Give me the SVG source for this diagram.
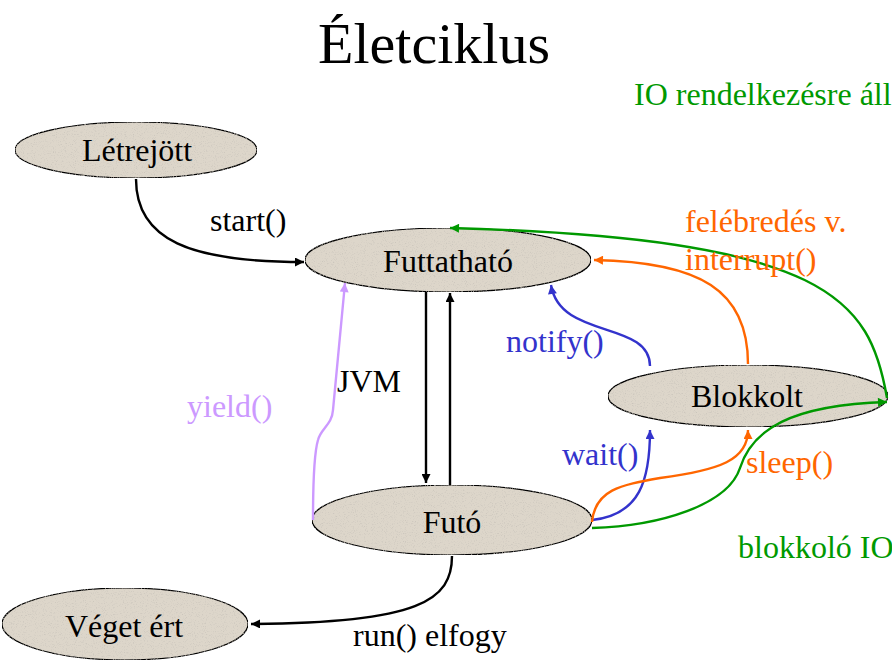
<svg xmlns="http://www.w3.org/2000/svg" width="892" height="661" viewBox="0 0 892 661" font-family="'Liberation Serif', serif">
<style>
.node{fill:#ddd6ca;stroke:#000;stroke-width:1.2}
text{font-family:'Liberation Serif','Times New Roman',Times,serif}
.nt{font-size:32px;fill:#000;text-anchor:middle}
.lbl{font-size:32px}
.title{font-size:58px;fill:#000;text-anchor:middle}
.e{fill:none;stroke-width:2.4}
.k{stroke:#000}.o{stroke:#ff6600}.b{stroke:#3333cc}.g{stroke:#009900}.v{stroke:#cc99ff}
</style>
<defs>
<filter id="tex" x="0" y="0" width="100%" height="100%">
<feTurbulence type="fractalNoise" baseFrequency="0.9" numOctaves="2" seed="3" result="n"/>
<feColorMatrix in="n" type="matrix" values="0 0 0 0 0.55  0 0 0 0 0.52  0 0 0 0 0.47  0 0 0 -2.2 1.0" result="s"/>
<feComposite in="s" in2="SourceGraphic" operator="in" result="sp"/>
<feMerge><feMergeNode in="SourceGraphic"/><feMergeNode in="sp"/></feMerge>
</filter>
<marker id="ak" viewBox="0 0 10 10" refX="10" refY="5" markerWidth="10" markerHeight="9" markerUnits="userSpaceOnUse" orient="auto"><path d="M0,0L10,5L0,10z" fill="#000"/></marker>
<marker id="ao" viewBox="0 0 10 10" refX="10" refY="5" markerWidth="10" markerHeight="9" markerUnits="userSpaceOnUse" orient="auto"><path d="M0,0L10,5L0,10z" fill="#ff6600"/></marker>
<marker id="ab" viewBox="0 0 10 10" refX="10" refY="5" markerWidth="10" markerHeight="9" markerUnits="userSpaceOnUse" orient="auto"><path d="M0,0L10,5L0,10z" fill="#3333cc"/></marker>
<marker id="ag" viewBox="0 0 10 10" refX="10" refY="5" markerWidth="10" markerHeight="9" markerUnits="userSpaceOnUse" orient="auto"><path d="M0,0L10,5L0,10z" fill="#009900"/></marker>
<marker id="av" viewBox="0 0 10 10" refX="10" refY="5" markerWidth="10" markerHeight="9" markerUnits="userSpaceOnUse" orient="auto"><path d="M0,0L10,5L0,10z" fill="#cc99ff"/></marker>
</defs>
<rect width="892" height="661" fill="#fff"/>
<text class="title" x="434" y="63" font-family="'Liberation Serif', serif">Életciklus</text>

<g id="nodes" font-family="'Liberation Serif', serif">
<g id="letrejott"><ellipse class="node" cx="136" cy="150" rx="121" ry="28" filter="url(#tex)"/><text class="nt" x="137" y="161">Létrejött</text></g>
<g id="futtathato"><ellipse class="node" cx="448" cy="260" rx="143" ry="32" filter="url(#tex)"/><text class="nt" x="448" y="272">Futtatható</text></g>
<g id="blokkolt"><ellipse class="node" cx="748" cy="396" rx="140" ry="31" filter="url(#tex)"/><text class="nt" x="747" y="407">Blokkolt</text></g>
<g id="futo"><ellipse class="node" cx="452" cy="520" rx="140" ry="35" filter="url(#tex)"/><text class="nt" x="452" y="533">Futó</text></g>
<g id="veget"><ellipse class="node" cx="125" cy="624" rx="123" ry="36" filter="url(#tex)"/><text class="nt" x="124" y="637">Véget ért</text></g>
</g>

<g id="connectors">
<path class="e k" d="M136,179 C136,240 190,262 304,262" marker-end="url(#ak)"/>
<path class="e k" d="M426,292 L426,483" marker-end="url(#ak)"/>
<path class="e k" d="M450,485 L450,293" marker-end="url(#ak)"/>
<path class="e v" d="M313,520 C313,480 315,450 318,440 C321,428 332,425 333,410 L345,283" marker-end="url(#av)"/>
<path class="e b" d="M650,366 C650,320 560,340 551,285" marker-end="url(#ab)"/>
<path class="e o" d="M748,364 C748,290 700,262 594,260" marker-end="url(#ao)"/>
<path class="e g" d="M887,398 C870,300 830,238 450,228" marker-end="url(#ag)"/>
<path class="e b" d="M592,520 C640,515 650,480 650,430" marker-end="url(#ab)"/>
<path class="e o" d="M592,522 C595,490 620,485 660,478 C720,470 748,460 748,430" marker-end="url(#ao)"/>
<path class="e g" d="M592,528 C660,526 728,505 740,468 C752,430 790,405 887,402" marker-end="url(#ag)"/>
<path class="e k" d="M452,556 C452,600 420,623 251,624" marker-end="url(#ak)"/>
</g>

<g id="labels" font-family="'Liberation Serif', serif">
<text class="lbl" x="210" y="231" fill="#000">start()</text>
<text class="lbl" x="337" y="392" fill="#000">JVM</text>
<text class="lbl" x="187" y="417" fill="#cc99ff">yield()</text>
<text class="lbl" x="506" y="352" fill="#3333cc">notify()</text>
<text class="lbl" x="685" y="232" fill="#ff6600">felébredés v.</text>
<text class="lbl" x="685" y="270" fill="#ff6600">interrupt()</text>
<text class="lbl" x="634" y="105" fill="#009900">IO rendelkezésre áll</text>
<text class="lbl" x="562" y="465" fill="#3333cc">wait()</text>
<text class="lbl" x="746" y="473" fill="#ff6600">sleep()</text>
<text class="lbl" x="738" y="558" fill="#009900">blokkoló IO</text>
<text class="lbl" x="353" y="646" fill="#000">run() elfogy</text>
</g>
</svg>
